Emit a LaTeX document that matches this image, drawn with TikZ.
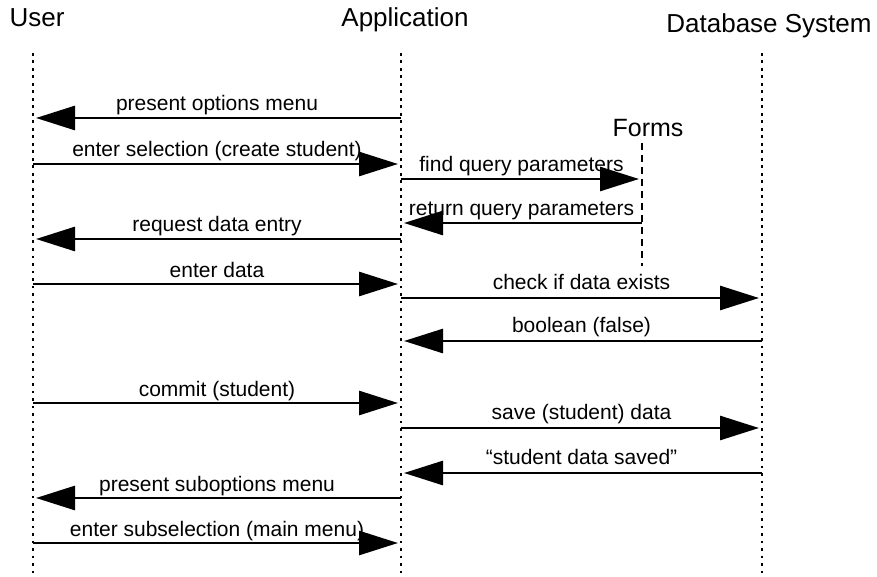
\documentclass[tikz,border=0pt]{standalone}
\usepackage{fontspec}
\setmainfont{Liberation Sans}
\usetikzlibrary{arrows.meta}
\begin{document}
\begin{tikzpicture}[x=1pt,y=-1pt,
  lifeline/.style={line width=2.6pt, dash pattern=on 2.8pt off 4.7pt},
  formsline/.style={line width=2.2pt, dash pattern=on 7pt off 5pt},
  msg/.style={line width=2.8pt, -{Triangle[length=39pt,width=24pt]}, shorten >=3pt},
  lbl/.style={font=\fontsize{21}{24}\selectfont, anchor=base, yshift=7pt},
  head/.style={font=\fontsize{26}{30}\selectfont, anchor=base}]
\useasboundingbox (0,0) rectangle (877,577);

% participants
\node[head] (huser) at (37,27) {User};
\node[head] (happ)  at (405,27) {Application};
\node[head] (hdb)   at (769,33) {Database System};
\node[font=\fontsize{25}{28}\selectfont, anchor=base] (hforms) at (648,137) {Forms};

% lifelines
\coordinate (utop) at (33,53);   \coordinate (ubot) at (33,577);
\coordinate (atop) at (401,53);  \coordinate (abot) at (401,577);
\coordinate (dtop) at (762,53);  \coordinate (dbot) at (762,577);
\coordinate (ftop) at (642,143); \coordinate (fbot) at (642,266);
\draw[lifeline] (utop) -- (ubot);
\draw[lifeline] (atop) -- (abot);
\draw[lifeline] (dtop) -- (dbot);
\draw[formsline] (ftop) -- (fbot);

% message anchor points on the lifelines
\foreach \n/\y in {1/118,2/164,5/239,6/284,9/403,12/498,13/543}{
  \coordinate (u\n) at (33,\y);
  \coordinate (a\n) at (401,\y);
}
\foreach \n/\y in {3/179,4/223}{
  \coordinate (a\n) at (401,\y);
  \coordinate (f\n) at (642,\y);
}
\foreach \n/\y in {7/298,8/341,10/428,11/473}{
  \coordinate (a\n) at (401,\y);
  \coordinate (d\n) at (762,\y);
}

% messages
\draw[msg] (a1) -- node[lbl] (m1) {present options menu} (u1);
\draw[msg] (u2) -- node[lbl] (m2) {enter selection (create student)} (a2);
\draw[msg] (a3) -- node[lbl] (m3) {find query parameters} (f3);
\draw[msg] (f4) -- node[lbl] (m4) {return query parameters} (a4);
\draw[msg] (a5) -- node[lbl] (m5) {request data entry} (u5);
\draw[msg] (u6) -- node[lbl] (m6) {enter data} (a6);
\draw[msg] (a7) -- node[lbl, yshift=2pt] (m7) {check if data exists} (d7);
\draw[msg] (d8) -- node[lbl, yshift=2pt] (m8) {boolean (false)} (a8);
\draw[msg] (u9) -- node[lbl] (m9) {commit (student)} (a9);
\draw[msg] (a10) -- node[lbl, yshift=2pt] (m10) {save (student) data} (d10);
\draw[msg] (d11) -- node[lbl, yshift=2pt] (m11) {“student data saved”} (a11);
\draw[msg] (a12) -- node[lbl] (m12) {present suboptions menu} (u12);
\draw[msg] (u13) -- node[lbl] (m13) {enter subselection (main menu)} (a13);
\end{tikzpicture}
\end{document}
